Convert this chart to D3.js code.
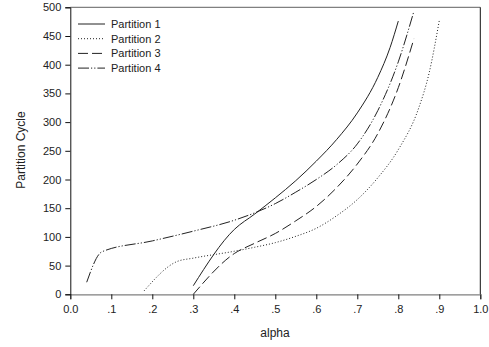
<!DOCTYPE html>
<html>
<head>
<meta charset="utf-8">
<script src="https://cdn.jsdelivr.net/npm/d3@7"></script>
<style>
  body { margin: 0; background: #fff; }
  svg { display: block; font-family: "Liberation Sans", Arial, sans-serif; }
</style>
</head>
<body>
<div id="chart"></div>
<script>
// values
const p1X = [0.30, 0.40, 0.45, 0.50, 0.55, 0.60, 0.65, 0.70, 0.75, 0.78, 0.80];
const p1Y = [15, 113, 140, 168, 198, 232, 270, 316, 378, 430, 476];

const p2X = [0.18, 0.26, 0.30, 0.40, 0.45, 0.50, 0.55, 0.60, 0.65, 0.70, 0.75, 0.80, 0.85, 0.875, 0.90];
const p2Y = [6, 57, 63, 75, 82, 90, 101, 115, 137, 165, 203, 252, 325, 385, 477];

const p3X = [0.30, 0.40, 0.45, 0.50, 0.55, 0.60, 0.65, 0.70, 0.75, 0.80, 0.838];
const p3Y = [0, 71, 89, 106, 128, 153, 186, 227, 280, 360, 445];

const p4X = [0.04, 0.077, 0.20, 0.30, 0.40, 0.45, 0.50, 0.55, 0.60, 0.65, 0.70, 0.75, 0.80, 0.838];
const p4Y = [21, 74, 93, 110, 129, 142, 158, 178, 200, 226, 262, 320, 405, 493];

const seriesNames = ["Partition 1", "Partition 2", "Partition 3", "Partition 4"];
const seriesDash = [null, "1,2", "10,4", "11,2,1.2,2,1.2,2"];

const xTicks = [0, 0.1, 0.2, 0.3, 0.4, 0.5, 0.6, 0.7, 0.8, 0.9, 1.0];
const xTickLabels = ["0.0", ".1", ".2", ".3", ".4", ".5", ".6", ".7", ".8", ".9", "1.0"];
const yTicks = [0, 50, 100, 150, 200, 250, 300, 350, 400, 450, 500];

const width = 489, height = 347;
const margin = { top: 7.3, right: 8.7, bottom: 52.7, left: 70.3 };
const innerW = width - margin.left - margin.right;
const innerH = height - margin.top - margin.bottom;

const svg = d3.select("#chart").append("svg")
  .attr("width", width)
  .attr("height", height);

const g = svg.append("g").attr("transform", `translate(${margin.left},${margin.top})`);

const x = d3.scaleLinear().domain([0, 1]).range([0, innerW]);
const y = d3.scaleLinear().domain([0, 500]).range([innerH, 0]);

// frame: top and bottom grey, left and right black
g.append("line").attr("x1", 0).attr("x2", innerW).attr("y1", 0).attr("y2", 0)
  .attr("stroke", "#808080").attr("stroke-width", 1.3);
g.append("line").attr("x1", innerW).attr("x2", innerW).attr("y1", 0).attr("y2", innerH)
  .attr("stroke", "#111").attr("stroke-width", 1);

// x axis
const xAxis = g.append("g")
  .attr("transform", `translate(0,${innerH})`)
  .call(d3.axisBottom(x).tickValues(xTicks).tickFormat((d, i) => xTickLabels[i]).tickSize(5).tickPadding(6));
xAxis.select(".domain").attr("stroke", "#808080").attr("stroke-width", 1.3);
xAxis.selectAll(".tick line").attr("stroke", "#111");
xAxis.selectAll("text").attr("font-size", 11).attr("fill", "#222")
  .attr("font-family", "Liberation Sans, Arial, sans-serif");

// y axis
const yAxis = g.append("g")
  .call(d3.axisLeft(y).tickValues(yTicks).tickSize(5).tickPadding(4));
yAxis.select(".domain").attr("stroke", "#111");
yAxis.selectAll(".tick line").attr("stroke", "#111");
yAxis.selectAll("text").attr("font-size", 11).attr("fill", "#222")
  .attr("font-family", "Liberation Sans, Arial, sans-serif");

// titles
svg.append("text")
  .attr("x", 275).attr("y", 337)
  .attr("text-anchor", "middle")
  .attr("font-size", 12).attr("fill", "#222")
  .text("alpha");

svg.append("text")
  .attr("transform", "translate(25,150) rotate(-90)")
  .attr("text-anchor", "middle")
  .attr("font-size", 12).attr("fill", "#222")
  .text("Partition Cycle");

// curves
const allX = [p1X, p2X, p3X, p4X];
const allY = [p1Y, p2Y, p3Y, p4Y];
const series = seriesNames.map((name, i) => ({
  name: name,
  dash: seriesDash[i],
  points: allX[i].map((v, j) => [v, allY[i][j]])
}));

const line = d3.line()
  .x(d => x(d[0]))
  .y(d => y(d[1]))
  .curve(d3.curveMonotoneX);

g.selectAll(".series")
  .data(series)
  .enter()
  .append("path")
  .attr("class", "series")
  .attr("d", d => line(d.points))
  .attr("fill", "none")
  .attr("stroke", "#222")
  .attr("stroke-width", 1)
  .attr("stroke-dasharray", d => d.dash);

// legend
const legend = svg.append("g").attr("transform", "translate(78,24)");
const rows = legend.selectAll("g")
  .data(series)
  .enter()
  .append("g")
  .attr("transform", (d, i) => `translate(0,${i * 14.7})`);

rows.append("line")
  .attr("x1", 0).attr("x2", 27)
  .attr("y1", 0).attr("y2", 0)
  .attr("stroke", "#222")
  .attr("stroke-width", 1)
  .attr("stroke-dasharray", d => d.dash);

rows.append("text")
  .attr("x", 33).attr("y", 0)
  .attr("dy", "0.35em")
  .attr("font-size", 11).attr("fill", "#222")
  .text(d => d.name);
</script>
</body>
</html>
